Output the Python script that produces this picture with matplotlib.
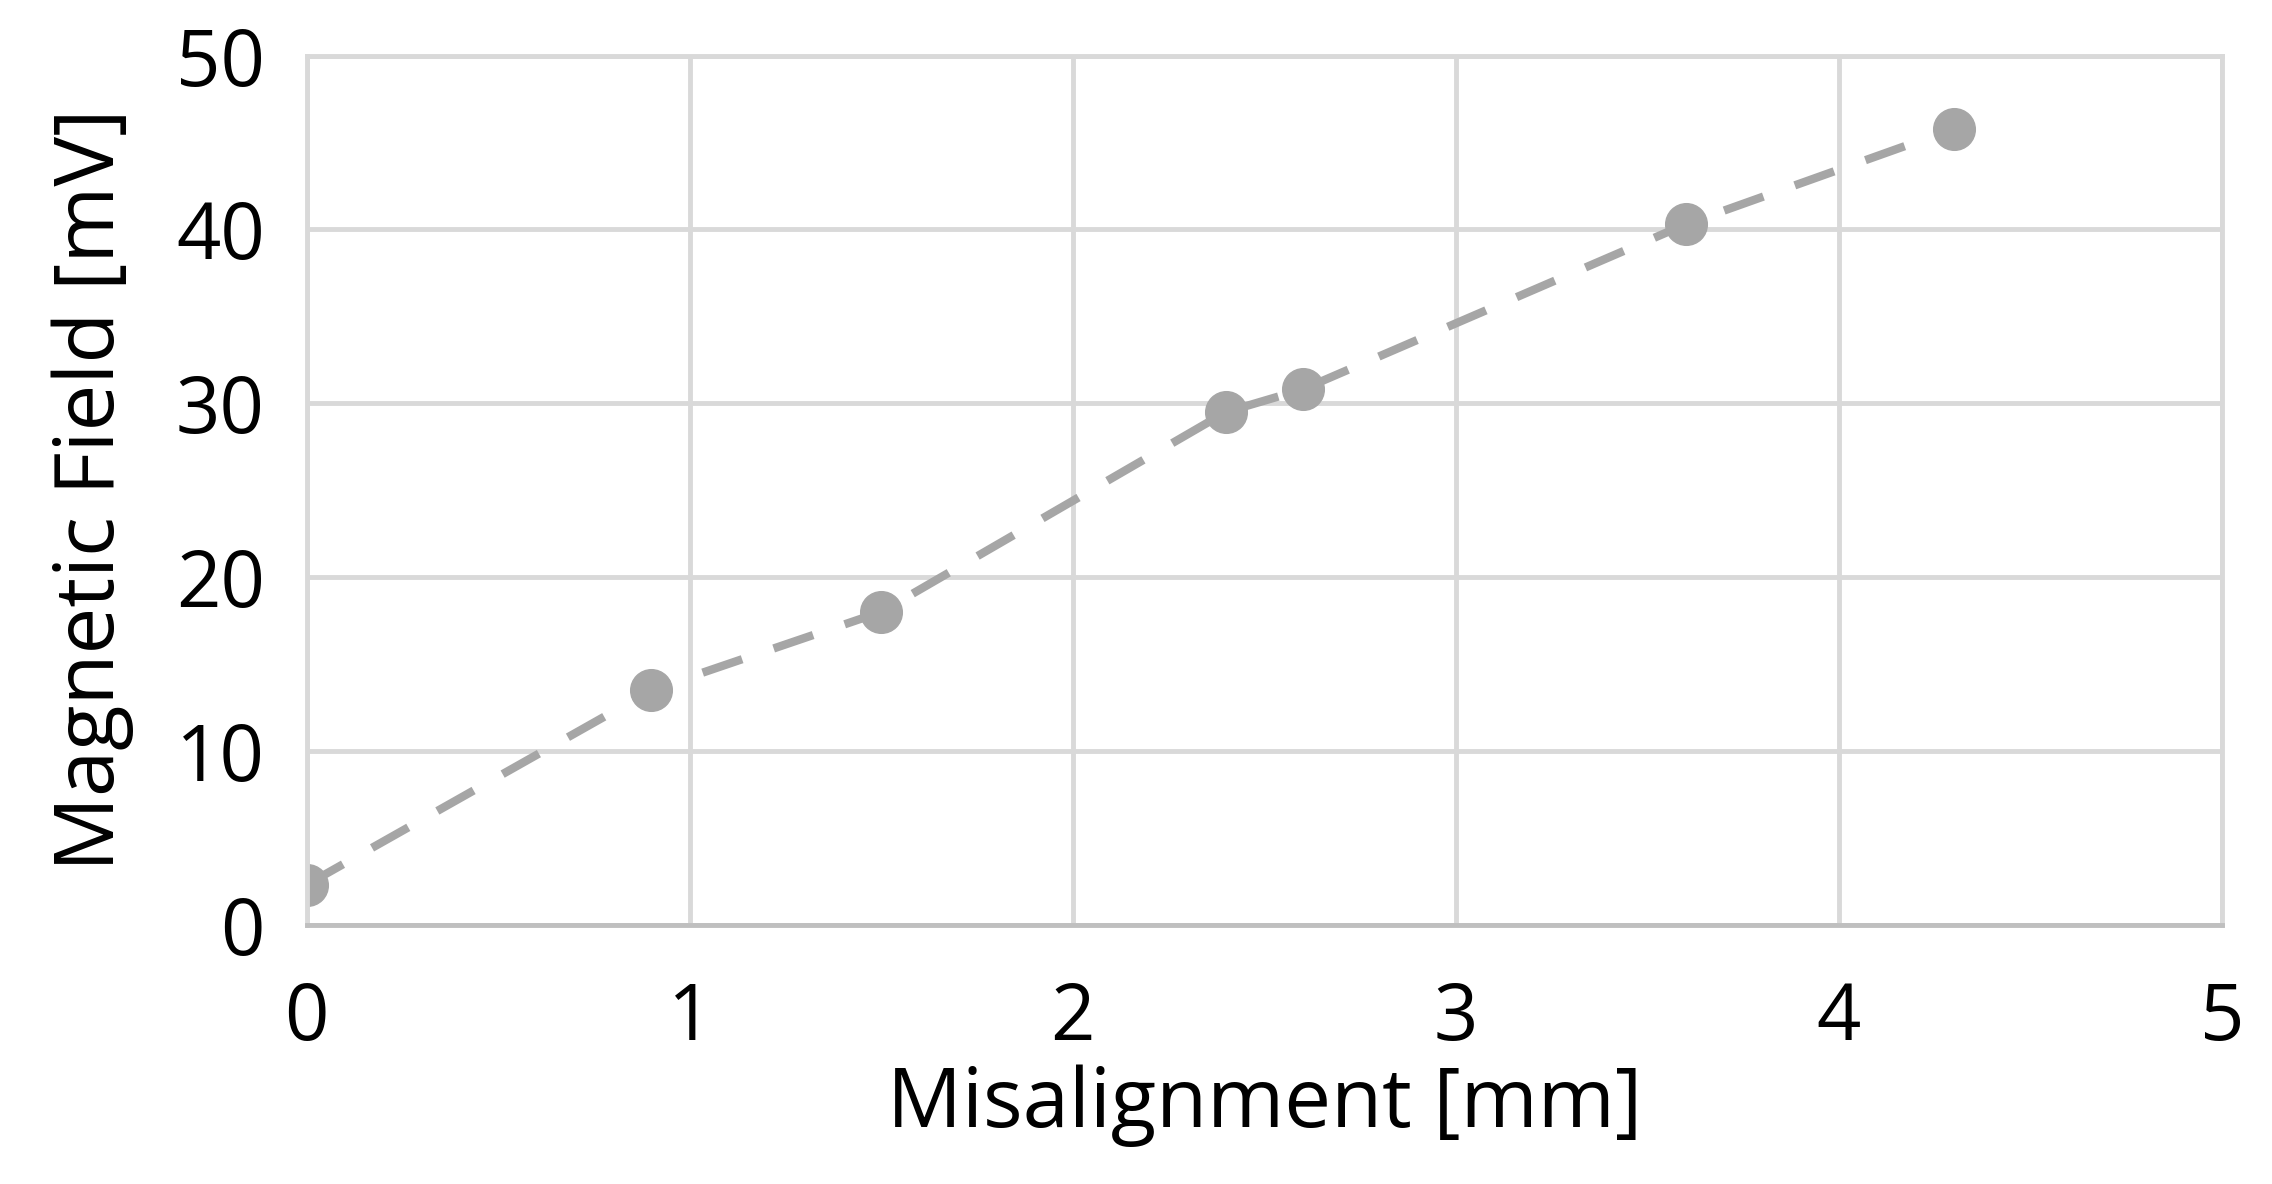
import matplotlib
matplotlib.use("Agg")
import matplotlib.pyplot as plt

x_mm = [0, 0.9, 1.5, 2.4, 2.6, 3.6, 4.3]
field_mv = [2.3, 13.5, 18.0, 29.5, 30.8, 40.3, 45.8]
x_ticks = [0, 1, 2, 3, 4, 5]
y_ticks = [0, 10, 20, 30, 40, 50]

plt.rcParams['font.family'] = ['Open Sans', 'DejaVu Sans']
fig = plt.figure(figsize=(22.72, 11.84), dpi=100)
ax = fig.add_axes([0.135, 0.219, 0.843, 0.734])
ax.plot(x_mm, field_mv, linestyle=(0, (5, 4)), color='#a6a6a6', lw=6,
        marker='o', markersize=30, markerfacecolor='#a6a6a6', markeredgecolor='#a6a6a6')
ax.set_xlim(0, 5)
ax.set_ylim(0, 50)
ax.set_xticks(x_ticks)
ax.set_yticks(y_ticks)
ax.grid(True, color='#d9d9d9', lw=3.5)
ax.set_axisbelow(True)
for s in ax.spines.values():
    s.set_color('#d9d9d9'); s.set_linewidth(3.5)
ax.spines['bottom'].set_color('#bfbfbf')
ax.tick_params(length=0, labelsize=56, pad=40)
ax.tick_params(axis='y', pad=30)
ax.set_xlabel('Misalignment [mm]', fontsize=60, labelpad=4)
ax.set_ylabel('Magnetic Field [mV]', fontsize=60, labelpad=30)
fig.savefig('out.png', dpi=100)
